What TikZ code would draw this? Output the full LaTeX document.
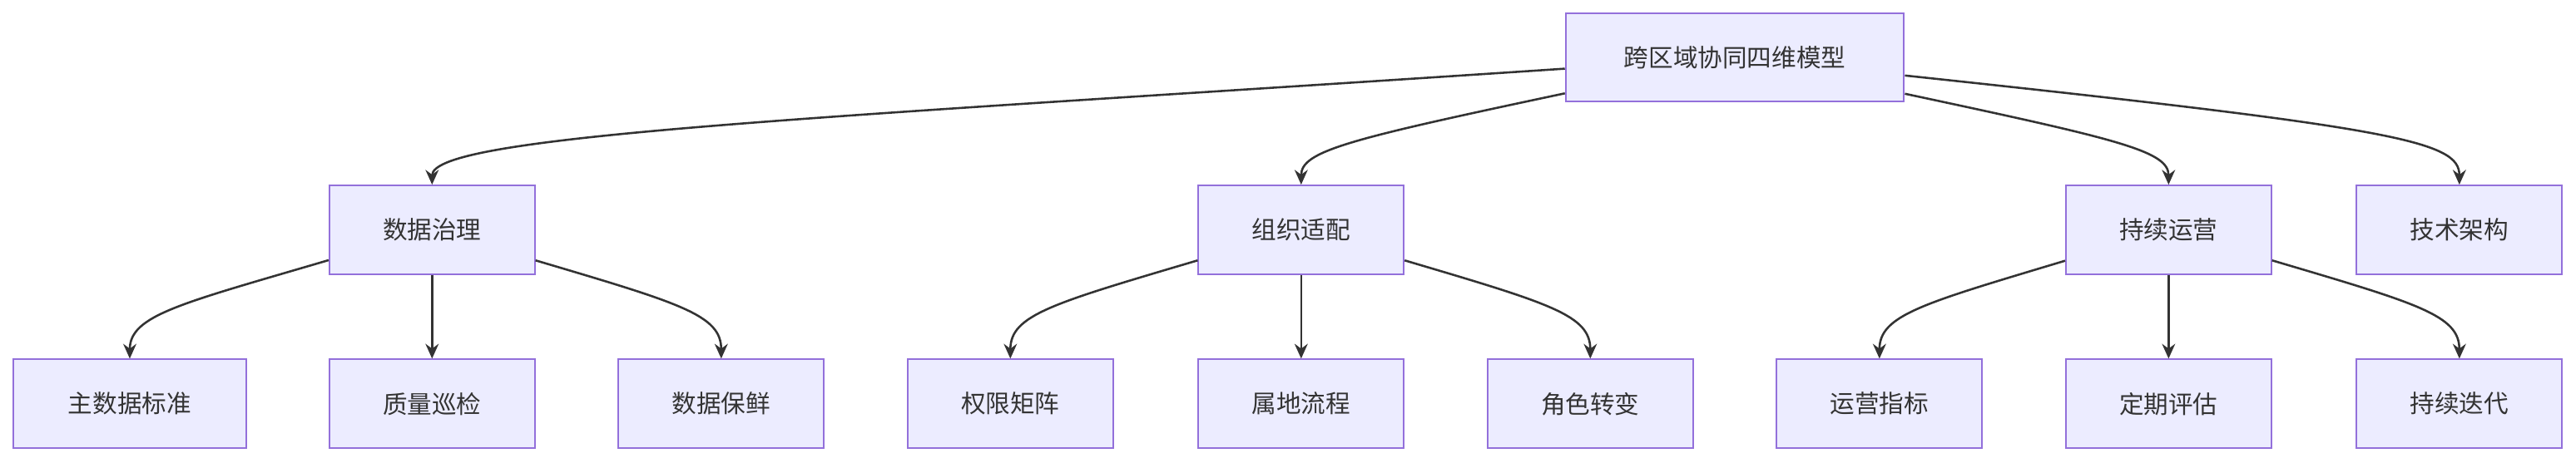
\documentclass[tikz,border=0pt]{standalone}
\usepackage{fontspec}
\setmainfont{Noto Sans CJK SC}
\usetikzlibrary{arrows.meta}
\definecolor{nfill}{HTML}{ECECFF}
\definecolor{nline}{HTML}{9370DB}
\definecolor{eline}{HTML}{333333}
\begin{document}
\begin{tikzpicture}[x=1pt,y=-1pt,
  box/.style={draw=nline,fill=nfill,line width=1pt,minimum height=54pt,minimum width=125pt,inner sep=0pt,font=\fontsize{15}{18}\selectfont,text=eline},
  edge/.style={draw=eline,line width=1.3pt,-{Stealth[length=9pt,width=8pt]}}]
\useasboundingbox (0,0) rectangle (1568,282);
\node[box,minimum width=206pt] (root) at (1056,35) {跨区域协同四维模型};
\node[box] (dz) at (263,140) {数据治理};
\node[box] (zz) at (792,140) {组织适配};
\node[box] (cy) at (1320,140) {持续运营};
\node[box] (js) at (1497,140) {技术架构};
\node[box,minimum width=142pt] (a1) at (79,246) {主数据标准};
\node[box] (a2) at (263,246) {质量巡检};
\node[box] (a3) at (439,246) {数据保鲜};
\node[box] (b1) at (615,246) {权限矩阵};
\node[box] (b2) at (792,246) {属地流程};
\node[box] (b3) at (968,246) {角色转变};
\node[box] (c1) at (1144,246) {运营指标};
\node[box] (c2) at (1320,246) {定期评估};
\node[box] (c3) at (1497,246) {持续迭代};
\draw[edge] (root) .. controls (500,72) and (263,82) .. (dz);
\draw[edge] (root) .. controls (820,85) and (792,92) .. (zz);
\draw[edge] (root) .. controls (1290,85) and (1320,92) .. (cy);
\draw[edge] (root) .. controls (1460,78) and (1497,86) .. (js);
\draw[edge] (dz) .. controls (110,185) and (79,192) .. (a1);
\draw[edge] (dz) -- (a2);
\draw[edge] (dz) .. controls (415,185) and (439,192) .. (a3);
\draw[edge] (zz) .. controls (640,185) and (615,192) .. (b1);
\draw[edge] (zz) -- (b2);
\draw[edge] (zz) .. controls (944,185) and (968,192) .. (b3);
\draw[edge] (cy) .. controls (1170,185) and (1144,192) .. (c1);
\draw[edge] (cy) -- (c2);
\draw[edge] (cy) .. controls (1472,185) and (1497,192) .. (c3);
\end{tikzpicture}
\end{document}
